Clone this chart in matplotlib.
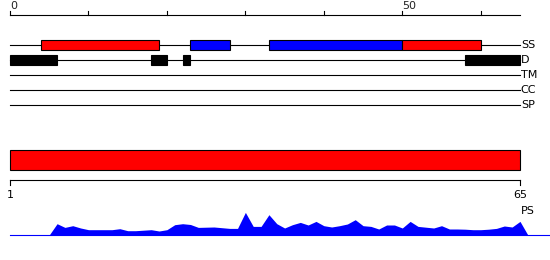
import numpy as np
import matplotlib
matplotlib.use("Agg")
import matplotlib.pyplot as plt
from matplotlib.patches import Rectangle

# sequence length and feature tracks (positions in residues)
seq_len = 65
track_names = ["SS", "D", "TM", "CC", "SP"]
ss_start = [4, 23, 33, 50]
ss_end = [19, 28, 50, 60]
ss_color = ["#ff0000", "#0000ff", "#0000ff", "#ff0000"]
dis_start = [0, 18, 22, 58]
dis_end = [6, 20, 23, 65]

# profile along the sequence
prof_pos = list(range(5, 67))
prof_val = [0, 11.3, 7.6, 9.3, 7.0, 5.3, 5.3, 5.3, 5.3, 6.3,
            4.3, 4.3, 4.8, 5.3, 4.0, 5.3, 10.3, 11.3, 10.5, 7.6,
            7.8, 8.0, 7.3, 6.6, 6.6, 22.6, 8.6, 8.6, 20.3, 11.3,
            7.0, 10.3, 12.6, 10.0, 13.6, 9.3, 8.0, 9.3, 11.0, 15.3,
            9.3, 8.6, 6.0, 10.0, 10.0, 7.0, 13.6, 8.6, 7.8, 7.0,
            9.3, 6.0, 6.0, 5.8, 5.3, 5.3, 5.8, 6.6, 9.0, 8.0,
            13.6, 0]

fig = plt.figure(figsize=(5.5, 2.6), dpi=100)
ax = fig.add_axes([0, 0, 1, 1])
ppu = 510.0 / seq_len
ax.set_xlim(-10 / ppu, 540 / ppu)
ax.set_ylim(260, 0)
ax.axis("off")

fs = 8
lw = 0.8

# top ruler
ax.plot([0, seq_len], [15, 15], color="black", lw=lw)
for t in range(0, seq_len, 10):
    ax.plot([t, t], [15, 11], color="black", lw=lw)
for t in [0, 50]:
    ax.text(t, 11, str(t), ha="left", va="bottom", fontsize=fs, color="#222222")

# track lines
track_y = [45, 60, 75, 90, 105]
for name, y in zip(track_names, track_y):
    ax.plot([0, seq_len], [y, y], color="black", lw=lw, zorder=1)
    ax.text(seq_len + 0.1, y, name, ha="left", va="center", fontsize=fs)

for s, e, c in zip(ss_start, ss_end, ss_color):
    ax.add_patch(Rectangle((s, 40), e - s, 10, facecolor=c, edgecolor="black", lw=lw, zorder=2))
for s, e in zip(dis_start, dis_end):
    ax.add_patch(Rectangle((s, 55), e - s, 10, facecolor="black", edgecolor="black", lw=lw, zorder=2))

# full-length bar
ax.add_patch(Rectangle((0, 150), seq_len, 20, facecolor="#ff0000", edgecolor="black", lw=lw))

# bottom ruler
ax.plot([0, seq_len], [180, 180], color="black", lw=lw)
ax.plot([0, 0], [180, 185], color="black", lw=lw)
ax.plot([seq_len, seq_len], [180, 185], color="black", lw=lw)
ax.text(0, 195, "1", ha="center", va="center", fontsize=fs)
ax.text(seq_len, 195, "65", ha="center", va="center", fontsize=fs)
ax.text(seq_len + 0.1, 211, "PS", ha="left", va="center", fontsize=fs)

# profile
base = 235
px = np.array(prof_pos)
py = base - np.array(prof_val)
ax.fill_between(px, py, base, color="#0000ff", lw=0)
ax.plot([0, 70], [base, base], color="#0000ff", lw=lw)

fig.savefig("out.png", dpi=100)
